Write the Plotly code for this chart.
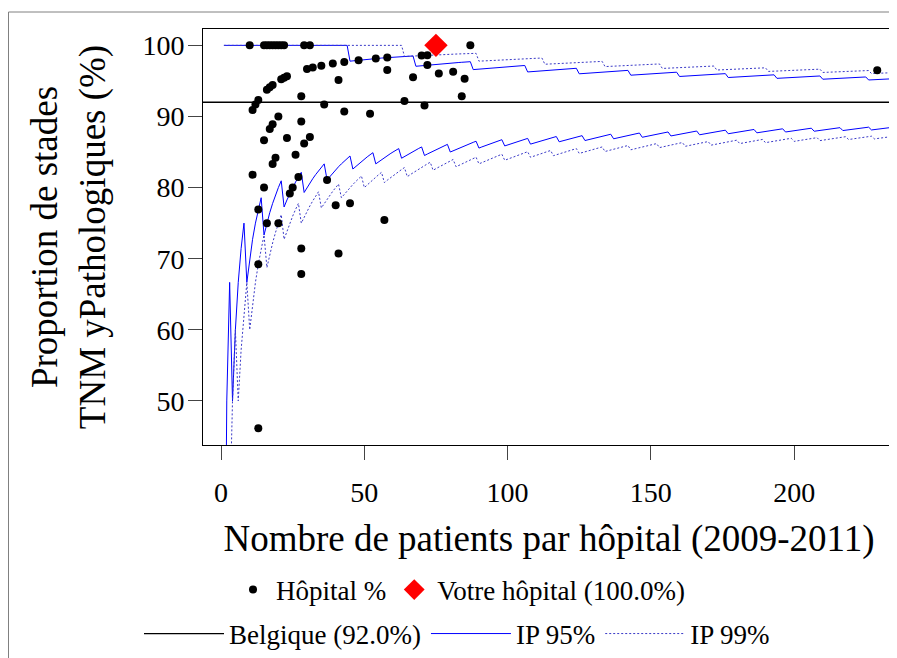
import math
import plotly.graph_objects as go

# ---------------- data ----------------
benchmark_pct = 92.0          # Belgique
your_n = [75]
your_pct = [100.0]

hosp_n = [10, 15, 16, 17, 18, 19, 20, 21, 22, 29, 31, 87,
          11, 12, 13, 16, 17, 18, 21, 22, 23, 30, 32, 35, 39, 43, 48, 54, 58, 70, 72,
          72, 58, 41, 67, 76, 81, 85, 28, 84, 64, 36, 71, 43, 52, 20, 17, 18, 28,
          15, 23, 31, 29, 19, 18, 26, 11, 27, 15, 37, 25, 24, 13, 16, 20, 40, 45, 57,
          13, 28, 28, 41, 13, 229]
hosp_pct = [100, 100, 100, 100, 100, 100, 100, 100, 100, 100, 100, 100,
            90.91, 91.67, 92.31, 93.75, 94.12, 94.44, 95.24, 95.45, 95.65, 96.67, 96.88,
            97.14, 97.44, 97.67, 97.92, 98.15, 98.28, 98.57, 98.61,
            97.22, 96.55, 95.12, 95.52, 96.05, 96.30, 95.29, 92.86, 92.86, 92.19, 91.67,
            91.55, 90.70, 90.38, 90.00, 88.24, 88.89, 89.29,
            86.67, 86.96, 87.10, 86.21, 84.21, 83.33, 84.62, 81.82, 81.48, 80.00, 81.08,
            80.00, 79.17, 76.92, 75.00, 75.00, 77.50, 77.78, 75.44,
            69.23, 71.43, 67.86, 70.73, 46.15, 96.51]

x_ticks = [0, 50, 100, 150, 200]
y_ticks = [50, 60, 70, 80, 90, 100]
x_range = [-6.3, 235.2]
y_range = [43.8, 102.3]
n_max = 240

# ---------------- binomial prediction limits around the benchmark ----------------
def qbinom(prob, n, p):
    target = prob * (1 - 64 * 2.220446049250313e-16)
    cdf = 0.0
    for k in range(n + 1):
        cdf += math.comb(n, k) * p ** k * (1 - p) ** (n - k)
        if cdf >= target:
            return k
    return n

p0 = benchmark_pct / 100
ns = list(range(1, n_max + 1))
lo95 = [100 * qbinom(0.025, n, p0) / n for n in ns]
hi95 = [100 * qbinom(0.975, n, p0) / n for n in ns]
lo99 = [100 * qbinom(0.005, n, p0) / n for n in ns]
hi99 = [100 * qbinom(0.995, n, p0) / n for n in ns]

FONT = "Liberation Serif, Times New Roman, serif"
# page has an 8px body margin, so the figure is sized to fill the rest
W, H = 889, 650
ML, MR, MT, MB = 195, 2, 21, 213
PW, PH = W - ML - MR, H - MT - MB

BLUE = "#0000ff"
DOTBLUE = "#3a3ac8"
DOT = "2px,2px"

fig = go.Figure()

fig.add_trace(go.Scatter(x=x_range, y=[benchmark_pct, benchmark_pct], mode="lines",
                         name="Belgique (%.1f%%)" % benchmark_pct,
                         line=dict(color="black", width=1.3), legend="legend2"))
fig.add_trace(go.Scatter(x=ns, y=lo95, mode="lines", name="IP 95%",
                         line=dict(color=BLUE, width=1), legend="legend2",
                         legendgroup="ip95"))
fig.add_trace(go.Scatter(x=ns, y=hi95, mode="lines", name="IP 95%", showlegend=False,
                         line=dict(color=BLUE, width=1), legend="legend2",
                         legendgroup="ip95"))
fig.add_trace(go.Scatter(x=ns, y=lo99, mode="lines", name="IP 99%",
                         line=dict(color=DOTBLUE, width=1, dash=DOT), legend="legend2",
                         legendgroup="ip99"))
fig.add_trace(go.Scatter(x=ns, y=hi99, mode="lines", name="IP 99%", showlegend=False,
                         line=dict(color=DOTBLUE, width=1, dash=DOT), legend="legend2",
                         legendgroup="ip99"))
fig.add_trace(go.Scatter(x=hosp_n, y=hosp_pct, mode="markers", name="Hôpital %",
                         marker=dict(color="black", size=8), legend="legend"))
fig.add_trace(go.Scatter(x=your_n, y=your_pct, mode="markers",
                         name="Votre hôpital (%.1f%%)" % your_pct[0],
                         marker=dict(color="red", symbol="diamond", size=18),
                         legend="legend", cliponaxis=False))

# outer grey frame
fig.add_shape(type="rect", xref="paper", yref="paper",
              x0=(0.5 - ML) / PW, x1=(888 - ML) / PW,
              y0=-(MB + 10) / PH, y1=1 + (MT - 4) / PH,
              line=dict(color="#808080", width=1), layer="below")

axis_common = dict(showline=True, linecolor="black", linewidth=1, mirror=True,
                   ticks="outside", ticklen=14, tickwidth=1, tickcolor="#444",
                   showgrid=False, zeroline=False,
                   tickfont=dict(family=FONT, size=28, color="black"))

fig.update_layout(
    width=W, height=H,
    margin=dict(l=ML, r=MR, t=MT, b=MB, autoexpand=False),
    paper_bgcolor="white", plot_bgcolor="white",
    font=dict(family=FONT, color="black"),
    xaxis=dict(range=x_range, tickvals=x_ticks, ticktext=[str(v) for v in x_ticks],
               ticklabelstandoff=8,
               title=dict(text="Nombre de patients par hôpital (2009-2011)",
                          font=dict(family=FONT, size=37), standoff=18),
               **axis_common),
    yaxis=dict(range=y_range, tickvals=y_ticks, ticktext=[str(v) for v in y_ticks],
               ticklabelstandoff=-2,
               title=dict(text="Proportion de stades<br>TNM yPathologiques (%)",
                          font=dict(family=FONT, size=37), standoff=25),
               **axis_common),
    legend=dict(orientation="h", xref="container", yref="container",
                x=452 / W, xanchor="center", y=1 - 582 / H, yanchor="middle",
                font=dict(family=FONT, size=27), bgcolor="rgba(0,0,0,0)",
                itemsizing="trace", traceorder="normal", itemwidth=36),
    legend2=dict(orientation="h", xref="container", yref="container",
                 x=449 / W, xanchor="center", y=1 - 626 / H, yanchor="middle",
                 font=dict(family=FONT, size=27), bgcolor="rgba(0,0,0,0)",
                 traceorder="normal", itemwidth=80),
    showlegend=True,
)

fig.write_html("out.html")
